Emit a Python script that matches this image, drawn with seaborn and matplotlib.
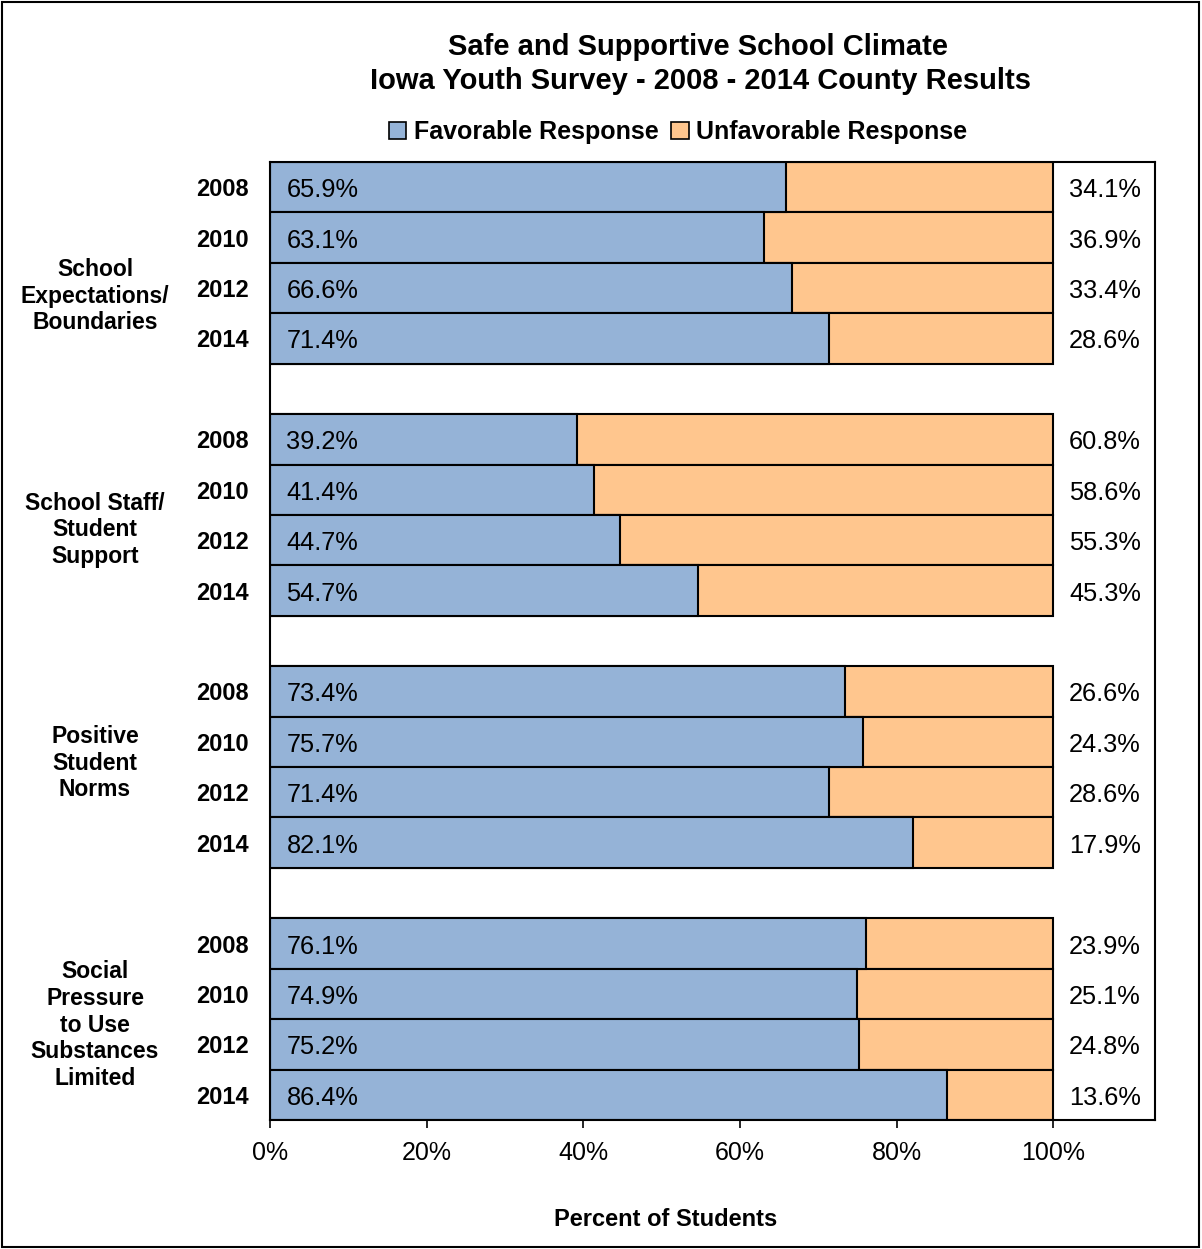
import matplotlib
matplotlib.use("Agg")
import matplotlib.pyplot as plt
from matplotlib.patches import Patch, Rectangle
import pandas as pd
import seaborn as sns

# Survey results (percent of students)
groups = [
    "School\nExpectations/\nBoundaries",
    "School Staff/\nStudent\nSupport",
    "Positive\nStudent\nNorms",
    "Social\nPressure\nto Use\nSubstances\nLimited",
]
years = ["2008", "2010", "2012", "2014"]
favorable = [
    [65.9, 63.1, 66.6, 71.4],
    [39.2, 41.4, 44.7, 54.7],
    [73.4, 75.7, 71.4, 82.1],
    [76.1, 74.9, 75.2, 86.4],
]
unfavorable = [
    [34.1, 36.9, 33.4, 28.6],
    [60.8, 58.6, 55.3, 45.3],
    [26.6, 24.3, 28.6, 17.9],
    [23.9, 25.1, 24.8, 13.6],
]
xticks = [0, 20, 40, 60, 80, 100]

blue = "#95B3D7"
orange = "#FFC68E"

sns.set_theme(style="white")
plt.rcParams["font.family"] = ["Liberation Sans", "DejaVu Sans"]
plt.rcParams.update({"text.color": "black", "xtick.color": "black",
                     "ytick.color": "black", "axes.labelcolor": "black"})

rows = []
order = []
for gi, g in enumerate(groups):
    for yi, yr in enumerate(years):
        key = f"g{gi}-{yr}"
        rows.append({"key": key, "year": yr,
                     "fav": favorable[gi][yi],
                     "unfav": unfavorable[gi][yi],
                     "total": favorable[gi][yi] + unfavorable[gi][yi]})
        order.append(key)
    if gi < len(groups) - 1:
        order.append(f"gap{gi}")
df = pd.DataFrame(rows)

fig = plt.figure(figsize=(12.02, 12.49), dpi=100)
ax = fig.add_axes([270 / 1202, 1 - 1120 / 1249, 885 / 1202, 958 / 1249])

sns.barplot(data=df, x="total", y="key", order=order, orient="h",
            color=orange, saturation=1, width=1.0, errorbar=None,
            edgecolor="black", linewidth=1.5, ax=ax)
sns.barplot(data=df, x="fav", y="key", order=order, orient="h",
            color=blue, saturation=1, width=1.0, errorbar=None,
            edgecolor="black", linewidth=1.5, ax=ax)

ax.set_xlim(0, 113)
ax.set_ylim(len(order) - 0.5, -0.5)

# value labels
pos = {k: i for i, k in enumerate(order)}
for _, r in df.iterrows():
    y = pos[r["key"]]
    ax.text(2.1, y + 0.06, f"{r['fav']:.1f}%", ha="left", va="center",
            fontsize=18.3, color="black")
    ax.text(106.6, y + 0.06, f"{r['unfav']:.1f}%", ha="center", va="center",
            fontsize=18.3, color="black")

ax.set_yticks(range(len(order)))
ax.set_yticklabels([k.split("-")[1] if "-" in k else "" for k in order],
                   fontsize=17, fontweight="bold")
ax.tick_params(axis="y", length=0, pad=15)
ax.set_xticks(xticks)
ax.set_xticklabels([f"{t}%" for t in xticks], fontsize=18)
ax.tick_params(axis="x", direction="out", length=6, width=1.2, pad=9,
               bottom=True, color="black")
ax.set_xlabel("")
ax.set_ylabel("")
for s in ax.spines.values():
    s.set_visible(True)
    s.set_color("black")
    s.set_linewidth(1.5)

# group labels
group_y = [296, 530, 763, 1025]
for g, gy in zip(groups, group_y):
    fig.text(95 / 1202, 1 - gy / 1249, g, ha="center", va="center",
             fontsize=16.5, fontweight="bold", linespacing=1.2)

fig.text(698 / 1202, 1 - 47 / 1249, "Safe and Supportive School Climate",
         ha="center", va="center", fontsize=21, fontweight="bold")
fig.text(700 / 1202, 1 - 81 / 1249,
         "Iowa Youth Survey - 2008 - 2014 County Results",
         ha="center", va="center", fontsize=21, fontweight="bold")

handles = [Patch(facecolor=blue, edgecolor="black", linewidth=1.2),
           Patch(facecolor=orange, edgecolor="black", linewidth=1.2)]
fig.legend(handles, ["Favorable Response", "Unfavorable Response"],
           loc="center", bbox_to_anchor=(678 / 1202, 1 - 132 / 1249),
           ncol=2, frameon=False, handlelength=0.7, handleheight=0.7,
           handletextpad=0.3, columnspacing=0.5,
           prop={"size": 18, "weight": "bold"})

fig.text(666 / 1202, 1 - 1220 / 1249, "Percent of Students",
         ha="center", va="center", fontsize=17, fontweight="bold")

fig.patches.append(Rectangle((2 / 1202, 2 / 1249), 1197 / 1202, 1245 / 1249,
                             transform=fig.transFigure, fill=False,
                             edgecolor="black", linewidth=1.5))

fig.savefig("out.png", dpi=100)
